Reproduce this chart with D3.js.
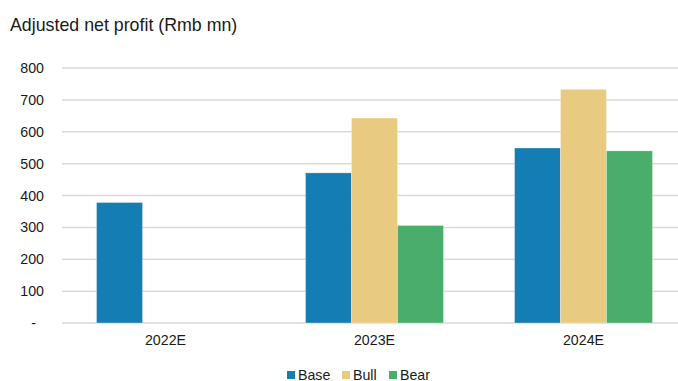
<!DOCTYPE html>
<html>
<head>
<meta charset="utf-8">
<script src="https://cdn.jsdelivr.net/npm/d3@7"></script>
<style>
html,body{margin:0;padding:0;background:#fff;}
svg{display:block;font-family:"Liberation Sans",Arial,Helvetica,sans-serif;}
</style>
</head>
<body>
<svg id="chart" width="678" height="381"></svg>
<script>
const categories = ["2022E", "2023E", "2024E"];
const seriesNames = ["Base", "Bull", "Bear"];
const baseValues = [378, 471, 549];
const bullValues = [null, 643, 733];
const bearValues = [null, 306, 540];
const yTicks = [0, 100, 200, 300, 400, 500, 600, 700, 800];
const colors = ["#147db3", "#e8cb80", "#4aad6b"];
const title = "Adjusted net profit (Rmb mn)";

const seriesValues = [baseValues, bullValues, bearValues];

const svg = d3.select("#chart");
const W = 678, H = 381;
const plot = {left: 61, right: 688, top: 68, bottom: 323};

const y = d3.scaleLinear().domain([0, 800]).range([plot.bottom, plot.top]);
const x0 = d3.scaleBand().domain(categories).range([plot.left, plot.right]).padding(0);
const groupW = x0.bandwidth() * 0.66;
const x1 = d3.scaleBand().domain(seriesNames).range([0, groupW]).padding(0);

// title
svg.append("text").attr("x", 10).attr("y", 31)
  .attr("font-size", 17.8).attr("fill", "#1a1a1a").text(title);

// gridlines
svg.append("g").selectAll("line").data(yTicks).join("line")
  .attr("x1", 62).attr("x2", W)
  .attr("y1", d => y(d)).attr("y2", d => y(d))
  .attr("stroke", "#d9d9d9").attr("stroke-width", 1.5);

// y labels
const yAxis = d3.axisLeft(y).tickValues(yTicks).tickSize(0).tickPadding(0)
  .tickFormat(d => d === 0 ? "-" : d3.format("d")(d));
const gy = svg.append("g").attr("transform", "translate(44,0)").call(yAxis);
gy.select(".domain").remove();
gy.selectAll("text").attr("font-size", 14.2).attr("fill", "#1a1a1a")
  .attr("font-family", "'Liberation Sans',Arial,sans-serif")
  .attr("dx", d => d === 0 ? -8 : 0);

// bars
const data = [];
categories.forEach((c, i) => {
  seriesNames.forEach((s, j) => {
    const v = seriesValues[j][i];
    if (v != null) data.push({c, s, v, j});
  });
});
svg.append("g").selectAll("rect").data(data).join("rect")
  .attr("x", d => x0(d.c) + (x0.bandwidth() - groupW) / 2 + x1(d.s))
  .attr("width", x1.bandwidth())
  .attr("y", d => y(d.v))
  .attr("height", d => y(0) - y(d.v))
  .attr("fill", d => colors[d.j])
  .attr("stroke", "rgba(255,255,255,0.5)").attr("stroke-width", 0.6);

// x labels
const xAxis = d3.axisBottom(x0).tickSize(0).tickPadding(0);
const gx = svg.append("g").attr("transform", `translate(0,${plot.bottom})`).call(xAxis);
gx.select(".domain").remove();
gx.selectAll("text").attr("font-size", 14.2).attr("fill", "#1a1a1a")
  .attr("font-family", "'Liberation Sans',Arial,sans-serif")
  .attr("dy", 0).attr("y", 22);

// legend
const legendX = [287, 342, 389];
const lg = svg.append("g").selectAll("g").data(seriesNames).join("g")
  .attr("transform", (d, i) => `translate(${legendX[i]},371)`);
lg.append("rect").attr("width", 8).attr("height", 8).attr("fill", (d, i) => colors[i]);
lg.append("text").attr("x", 11).attr("y", 8.5).attr("font-size", 14.2)
  .attr("fill", "#1a1a1a").text(d => d);
</script>
</body>
</html>
